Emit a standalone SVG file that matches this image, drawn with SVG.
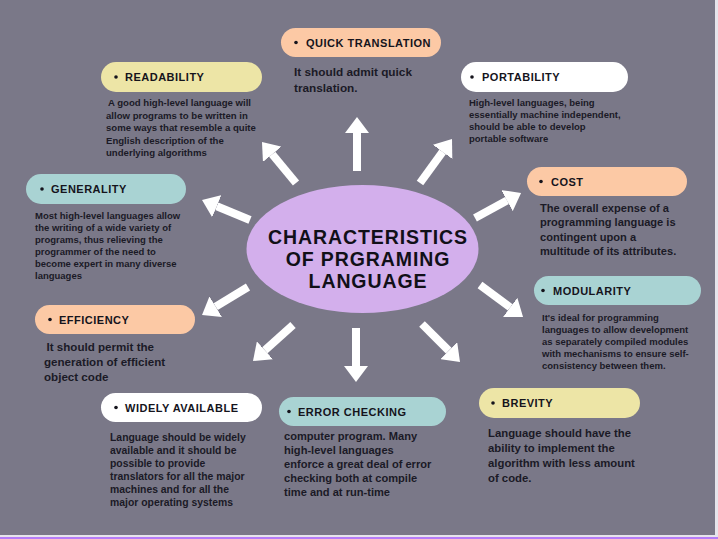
<svg xmlns="http://www.w3.org/2000/svg" width="718" height="539" viewBox="0 0 718 539">
<defs>
<style>
.bg{fill:#7a7888}
.pill-peach{fill:#fcc9a5}
.pill-yellow{fill:#ede5a6}
.pill-white{fill:#ffffff}
.pill-teal{fill:#a9d3d3}
.head{font-family:"Liberation Sans",Arial,sans-serif;font-weight:bold;font-size:11px;letter-spacing:0.5px;fill:#15141c}
.dot{fill:#15141c}
.desc{font-family:"Liberation Sans",Arial,sans-serif;font-weight:bold;fill:#1b1a26}
.title{font-family:"Liberation Sans",Arial,sans-serif;font-weight:bold;font-size:19.5px;letter-spacing:0.9px;fill:#111018;text-anchor:middle}
.arrow{stroke:#ffffff;stroke-width:8;fill:none;marker-end:url(#ah)}
</style>
<marker id="ah" markerUnits="userSpaceOnUse" markerWidth="16" markerHeight="24" viewBox="0 0 16 24" refX="0" refY="12" orient="auto">
<path d="M0,0 L16,12 L0,24 Z" fill="#ffffff"/>
</marker>
</defs>
<rect class="bg" x="0" y="0" width="718" height="539"/>
<rect x="715" y="0" width="3" height="536" fill="#e6e5ec"/>
<rect x="0" y="535" width="718" height="2" fill="#e6e5ec"/>
<rect x="0" y="537" width="718" height="2" fill="#b67cf7"/>

<g id="connectors">
<line class="arrow" x1="357" y1="171" x2="357" y2="133"/>
<line class="arrow" x1="296" y1="183" x2="272.2" y2="154.3"/>
<line class="arrow" x1="420" y1="183" x2="442.6" y2="151.9"/>
<line class="arrow" x1="250" y1="220" x2="216.8" y2="206.2"/>
<line class="arrow" x1="475" y1="218" x2="507" y2="200.6"/>
<line class="arrow" x1="248" y1="287" x2="215.7" y2="306.7"/>
<line class="arrow" x1="480" y1="285" x2="510.2" y2="307.4"/>
<line class="arrow" x1="293" y1="325" x2="264.9" y2="350.3"/>
<line class="arrow" x1="356" y1="328" x2="356" y2="366"/>
<line class="arrow" x1="422" y1="324" x2="448.7" y2="350.7"/>
</g>

<g id="center">
<ellipse cx="362.5" cy="249" rx="116" ry="64" fill="#d3afec"/>
<text class="title" x="368" y="244">CHARACTERISTICS</text>
<text class="title" x="368" y="266">OF PRGRAMING</text>
<text class="title" x="368" y="288">LANGUAGE</text>
</g>

<g id="quick-translation">
<rect class="pill-peach" x="281" y="28" width="160" height="29" rx="14.5"/>
<circle class="dot" cx="296" cy="42.5" r="1.8"/>
<text class="head" x="306" y="46.5">QUICK TRANSLATION</text>
<text class="desc" font-size="11.8" x="294" y="76">It should admit quick</text>
<text class="desc" font-size="11.8" x="294" y="91.5">translation.</text>
</g>

<g id="readability">
<rect class="pill-yellow" x="101" y="62" width="161" height="30" rx="15"/>
<circle class="dot" cx="116" cy="77" r="1.8"/>
<text class="head" x="125" y="81">READABILITY</text>
<g class="desc" font-size="9.6">
<text x="108" y="106">A good high-level language will</text>
<text x="106" y="118.5">allow programs to be written in</text>
<text x="106" y="131">some ways that resemble a quite</text>
<text x="106" y="143.5">English description of the</text>
<text x="106" y="156">underlying algorithms</text>
</g>
</g>

<g id="portability">
<rect class="pill-white" x="461" y="62" width="167" height="30" rx="15"/>
<circle class="dot" cx="472" cy="77" r="1.8"/>
<text class="head" x="482" y="81">PORTABILITY</text>
<g class="desc" font-size="9.5">
<text x="469" y="106">High-level languages, being</text>
<text x="469" y="118">essentially machine independent,</text>
<text x="469" y="130">should be able to develop</text>
<text x="469" y="141.5">portable software</text>
</g>
</g>

<g id="generality">
<rect class="pill-teal" x="26" y="174" width="160" height="30" rx="15"/>
<circle class="dot" cx="42" cy="189" r="1.8"/>
<text class="head" x="51" y="193">GENERALITY</text>
<g class="desc" font-size="9.5">
<text x="35" y="219">Most high-level languages allow</text>
<text x="35" y="231">the writing of a wide variety of</text>
<text x="35" y="243">programs, thus relieving the</text>
<text x="35" y="255">programmer of the need to</text>
<text x="35" y="267">become expert in many diverse</text>
<text x="35" y="279">languages</text>
</g>
</g>

<g id="cost">
<rect class="pill-peach" x="527" y="167" width="160" height="29" rx="14.5"/>
<circle class="dot" cx="541" cy="181.5" r="1.8"/>
<text class="head" x="551" y="185.5">COST</text>
<g class="desc" font-size="11.1">
<text x="540" y="212">The overall expense of a</text>
<text x="540" y="226.3">programming language is</text>
<text x="540" y="240.6">contingent upon a</text>
<text x="540" y="255">multitude of its attributes.</text>
</g>
</g>

<g id="efficiency">
<rect class="pill-peach" x="35" y="305" width="160" height="29" rx="14.5"/>
<circle class="dot" cx="50" cy="319.5" r="1.8"/>
<text class="head" x="59" y="323.5">EFFICIENCY</text>
<g class="desc" font-size="11.6">
<text x="46.5" y="351">It should permit the</text>
<text x="44" y="366">generation of efficient</text>
<text x="44" y="381">object code</text>
</g>
</g>

<g id="modularity">
<rect class="pill-teal" x="534" y="276" width="167" height="29" rx="14.5"/>
<circle class="dot" cx="543" cy="290.5" r="1.8"/>
<text class="head" x="553" y="294.5">MODULARITY</text>
<g class="desc" font-size="9.5">
<text x="542" y="321">It's ideal for programming</text>
<text x="542" y="333">languages to allow development</text>
<text x="542" y="345">as separately compiled modules</text>
<text x="542" y="357">with mechanisms to ensure self-</text>
<text x="542" y="369">consistency between them.</text>
</g>
</g>

<g id="widely-available">
<rect class="pill-white" x="101" y="393" width="161" height="29" rx="14.5"/>
<circle class="dot" cx="116" cy="407.5" r="1.8"/>
<text class="head" x="125" y="411.5">WIDELY AVAILABLE</text>
<g class="desc" font-size="10.4">
<text x="110" y="440.5">Language should be widely</text>
<text x="110" y="453.5">available and it should be</text>
<text x="110" y="466.5">possible to provide</text>
<text x="110" y="479.5">translators for all the major</text>
<text x="110" y="492.5">machines and for all the</text>
<text x="110" y="505.5">major operating systems</text>
</g>
</g>

<g id="error-checking">
<rect class="pill-teal" x="279" y="397" width="167" height="29" rx="14.5"/>
<circle class="dot" cx="289" cy="411.5" r="1.8"/>
<text class="head" x="298" y="415.5">ERROR CHECKING</text>
<g class="desc" font-size="11.1">
<text x="284" y="440">computer program. Many</text>
<text x="284" y="454">high-level languages</text>
<text x="284" y="468">enforce a great deal of error</text>
<text x="284" y="482">checking both at compile</text>
<text x="284" y="496">time and at run-time</text>
</g>
</g>

<g id="brevity">
<rect class="pill-yellow" x="479" y="388" width="161" height="30" rx="15"/>
<circle class="dot" cx="493" cy="403" r="1.8"/>
<text class="head" x="502" y="407">BREVITY</text>
<g class="desc" font-size="11.35">
<text x="488" y="437">Language should have the</text>
<text x="488" y="452">ability to implement the</text>
<text x="488" y="467">algorithm with less amount</text>
<text x="488" y="482">of code.</text>
</g>
</g>
</svg>
